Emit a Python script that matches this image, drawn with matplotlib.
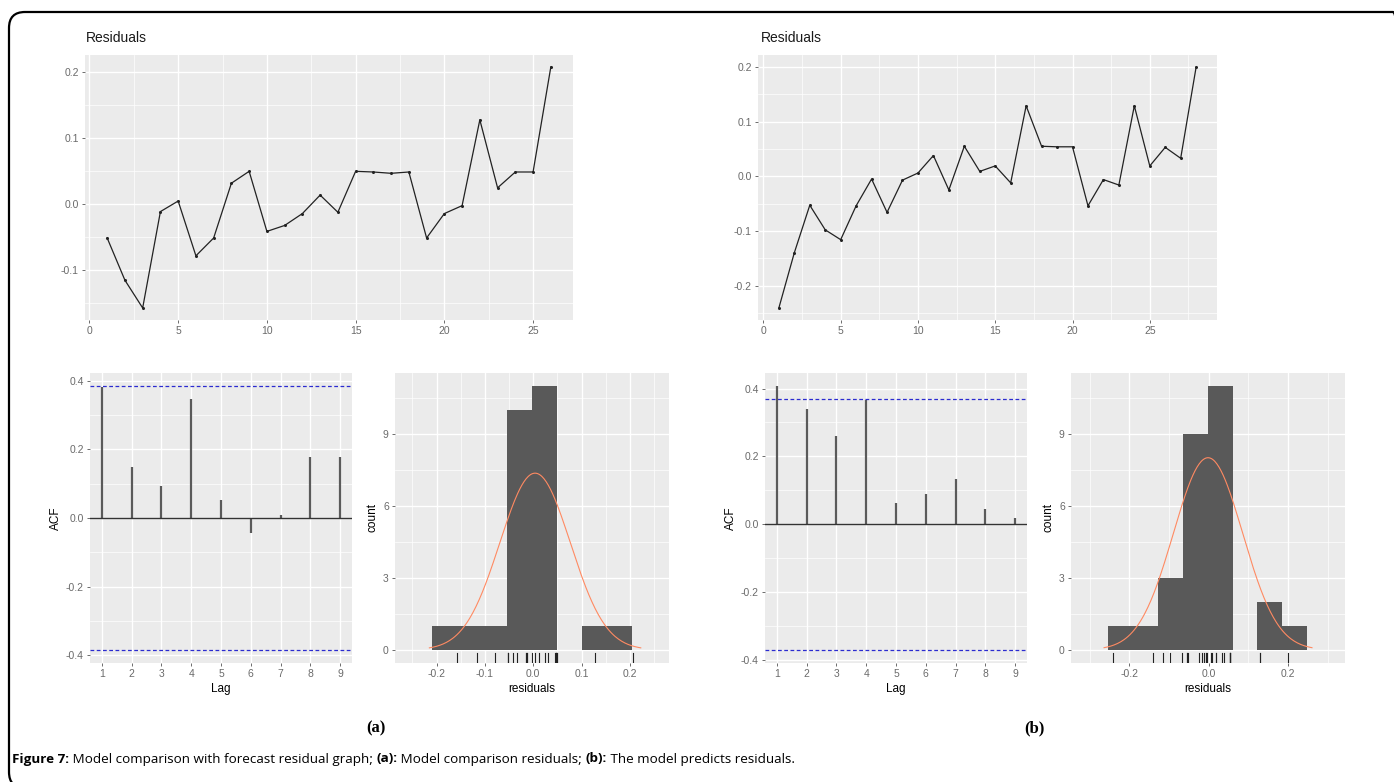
import numpy as np
import matplotlib
matplotlib.use("Agg")
import matplotlib.pyplot as plt
from matplotlib.patches import FancyBboxPatch
from matplotlib.ticker import MultipleLocator, FixedLocator
import matplotlib.transforms as mtransforms

# residual series
resid_a = [-0.052, -0.116, -0.158, -0.012, 0.004, -0.079, -0.052, 0.031, 0.049,
           -0.042, -0.033, -0.015, 0.013, -0.013, 0.049, 0.048, 0.046, 0.048,
           -0.052, -0.015, -0.003, 0.127, 0.024, 0.048, 0.048, 0.207]
resid_b = [-0.241, -0.140, -0.053, -0.098, -0.116, -0.054, -0.005, -0.066, -0.007,
           0.006, 0.038, -0.025, 0.055, 0.009, 0.019, -0.012, 0.129, 0.055,
           0.054, 0.054, -0.054, -0.006, -0.016, 0.129, 0.019, 0.053, 0.033, 0.200]

# autocorrelations, lags 1..9
lags = [1, 2, 3, 4, 5, 6, 7, 8, 9]
acf_a = [0.381, 0.150, 0.092, 0.347, 0.053, -0.045, 0.008, 0.178, 0.178]
acf_b = [0.407, 0.341, 0.260, 0.366, 0.063, 0.088, 0.133, 0.044, 0.019]

# histogram bins (start, width) and counts
hist_a_start, hist_a_width = -0.209, 0.0518
hist_a_counts = [1, 1, 1, 10, 11, 0, 1, 1]
hist_b_start, hist_b_width = -0.253, 0.0627
hist_b_counts = [1, 1, 3, 9, 11, 0, 2, 1]

W, H = 1394, 782
fig = plt.figure(figsize=(W / 100, H / 100), dpi=100)
plt.rcParams['font.family'] = ['Liberation Sans', 'DejaVu Sans']

PANEL = "#EBEBEB"
TICKC = "#6a6a6a"


def px_axes(x0, y0, x1, y1):
    return fig.add_axes([x0 / W, 1 - y1 / H, (x1 - x0) / W, (y1 - y0) / H])


def gg_style(ax):
    ax.set_facecolor(PANEL)
    for s in ax.spines.values():
        s.set_visible(False)
    ax.grid(which="major", color="white", lw=1.0)
    ax.grid(which="minor", color="white", lw=0.5)
    ax.set_axisbelow(True)
    ax.tick_params(which="major", length=2.5, width=0.6, color="#555555",
                   labelcolor=TICKC, labelsize=7.5, pad=2)
    ax.tick_params(which="minor", length=0)


def residual_panel(ax, r):
    x = np.arange(1, len(r) + 1)
    ax.plot(x, r, color="#222222", lw=0.9, marker="o", ms=1.2)
    span = len(r) - 1
    ax.set_xlim(1 - 0.05 * span, len(r) + 0.05 * span)
    lo, hi = min(r), max(r)
    ax.set_ylim(lo - 0.05 * (hi - lo), hi + 0.05 * (hi - lo))
    ax.xaxis.set_major_locator(MultipleLocator(5))
    ax.xaxis.set_minor_locator(MultipleLocator(2.5))
    ax.yaxis.set_major_locator(MultipleLocator(0.1))
    ax.yaxis.set_minor_locator(MultipleLocator(0.05))
    ax.yaxis.set_major_formatter(lambda v, p: f"{v:.1f}")
    gg_style(ax)


def acf_panel(ax, acf, n):
    conf = 1.96 / np.sqrt(n)
    ax.vlines(lags, 0, acf, color="#5a5a5a", lw=1.6)
    ax.axhline(0, color="#333333", lw=1.0)
    ax.axhline(conf, color="#2b2bd0", lw=0.9, ls=(0, (3, 2)))
    ax.axhline(-conf, color="#2b2bd0", lw=0.9, ls=(0, (3, 2)))
    ax.set_xlim(0.6, 9.4)
    lo, hi = min(min(acf), -conf), max(max(acf), conf)
    ax.set_ylim(lo - 0.05 * (hi - lo), hi + 0.05 * (hi - lo))
    ax.xaxis.set_major_locator(FixedLocator(lags))
    ax.yaxis.set_major_locator(MultipleLocator(0.2))
    ax.yaxis.set_minor_locator(MultipleLocator(0.1))
    ax.yaxis.set_major_formatter(lambda v, p: f"{v:.1f}")
    gg_style(ax)
    ax.set_xlabel("Lag", fontsize=8.5, labelpad=3)
    ax.set_ylabel("ACF", fontsize=8.5, labelpad=3)


def hist_panel(ax, r, start, width, counts, xlim, xmaj, xmin):
    edges = start + width * np.arange(len(counts))
    ax.bar(edges, counts, width=width, align="edge", color="#595959", lw=0)
    m, s = np.mean(r), np.std(r, ddof=1)
    xx = np.linspace(m - 3 * s, m + 3 * s, 200)
    yy = len(r) * width * np.exp(-0.5 * ((xx - m) / s) ** 2) / (s * np.sqrt(2 * np.pi))
    ax.plot(xx, yy, color="#ff8a62", lw=0.8)
    trans = mtransforms.blended_transform_factory(ax.transData, ax.transAxes)
    for v in r:
        ax.plot([v, v], [0, 0.035], color="#222222", lw=0.8, transform=trans)
    ax.set_xlim(*xlim)
    ax.set_ylim(-0.55, max(counts) * 1.05)
    ax.xaxis.set_major_locator(MultipleLocator(xmaj))
    ax.xaxis.set_minor_locator(MultipleLocator(xmin))
    ax.xaxis.set_major_formatter(lambda v, p: f"{v:.1f}")
    ax.yaxis.set_major_locator(MultipleLocator(3))
    ax.yaxis.set_minor_locator(MultipleLocator(1.5))
    gg_style(ax)
    ax.set_xlabel("residuals", fontsize=8.5, labelpad=3)
    ax.set_ylabel("count", fontsize=8.5, labelpad=3)


# (a)
ax1 = px_axes(85, 55, 573, 320)
residual_panel(ax1, resid_a)
ax2 = px_axes(90, 373, 352, 663)
acf_panel(ax2, acf_a, len(resid_a))
ax3 = px_axes(395, 373, 669, 663)
hist_panel(ax3, resid_a, hist_a_start, hist_a_width, hist_a_counts,
           (-0.286, 0.281), 0.1, 0.05)

# (b)
ax4 = px_axes(758, 55, 1217, 320)
residual_panel(ax4, resid_b)
ax5 = px_axes(765, 373, 1027, 663)
acf_panel(ax5, acf_b, len(resid_b))
ax6 = px_axes(1071, 373, 1345, 663)
hist_panel(ax6, resid_b, hist_b_start, hist_b_width, hist_b_counts,
           (-0.347, 0.344), 0.2, 0.1)

fig.text(86 / W, 1 - 38 / H, "Residuals", fontsize=10, color="#1a1a1a", va="center")
fig.text(761 / W, 1 - 38 / H, "Residuals", fontsize=10, color="#1a1a1a", va="center")

fig.text(376 / W, 1 - 728 / H, "(a)", fontsize=12, fontweight="bold",
         family="Liberation Serif", ha="center", va="center")
fig.text(1034 / W, 1 - 728 / H, "(b)", fontsize=12, fontweight="bold",
         family="Liberation Serif", ha="center", va="center")

# caption with bold pieces
caption = [("Figure 7:", "bold"), (" Model comparison with forecast residual graph; ", "normal"),
           ("(a):", "bold"), (" Model comparison residuals; ", "normal"),
           ("(b):", "bold"), (" The model predicts residuals.", "normal")]
renderer = fig.canvas.get_renderer()
xpos = 12
for txt, wt in caption:
    t = fig.text(xpos / W, 1 - 759 / H, txt, fontsize=9.7, fontweight=wt,
                 family="Open Sans", va="center", ha="left")
    bb = t.get_window_extent(renderer)
    xpos += bb.width

# rounded outer frame, open to the right and bottom edges
frame = FancyBboxPatch((9, -6), 1400, 776, boxstyle="round,pad=0,rounding_size=16",
                       fill=False, ec="black", lw=1.6, transform=None)
fig.add_artist(frame)

fig.savefig("out.png", dpi=100)
